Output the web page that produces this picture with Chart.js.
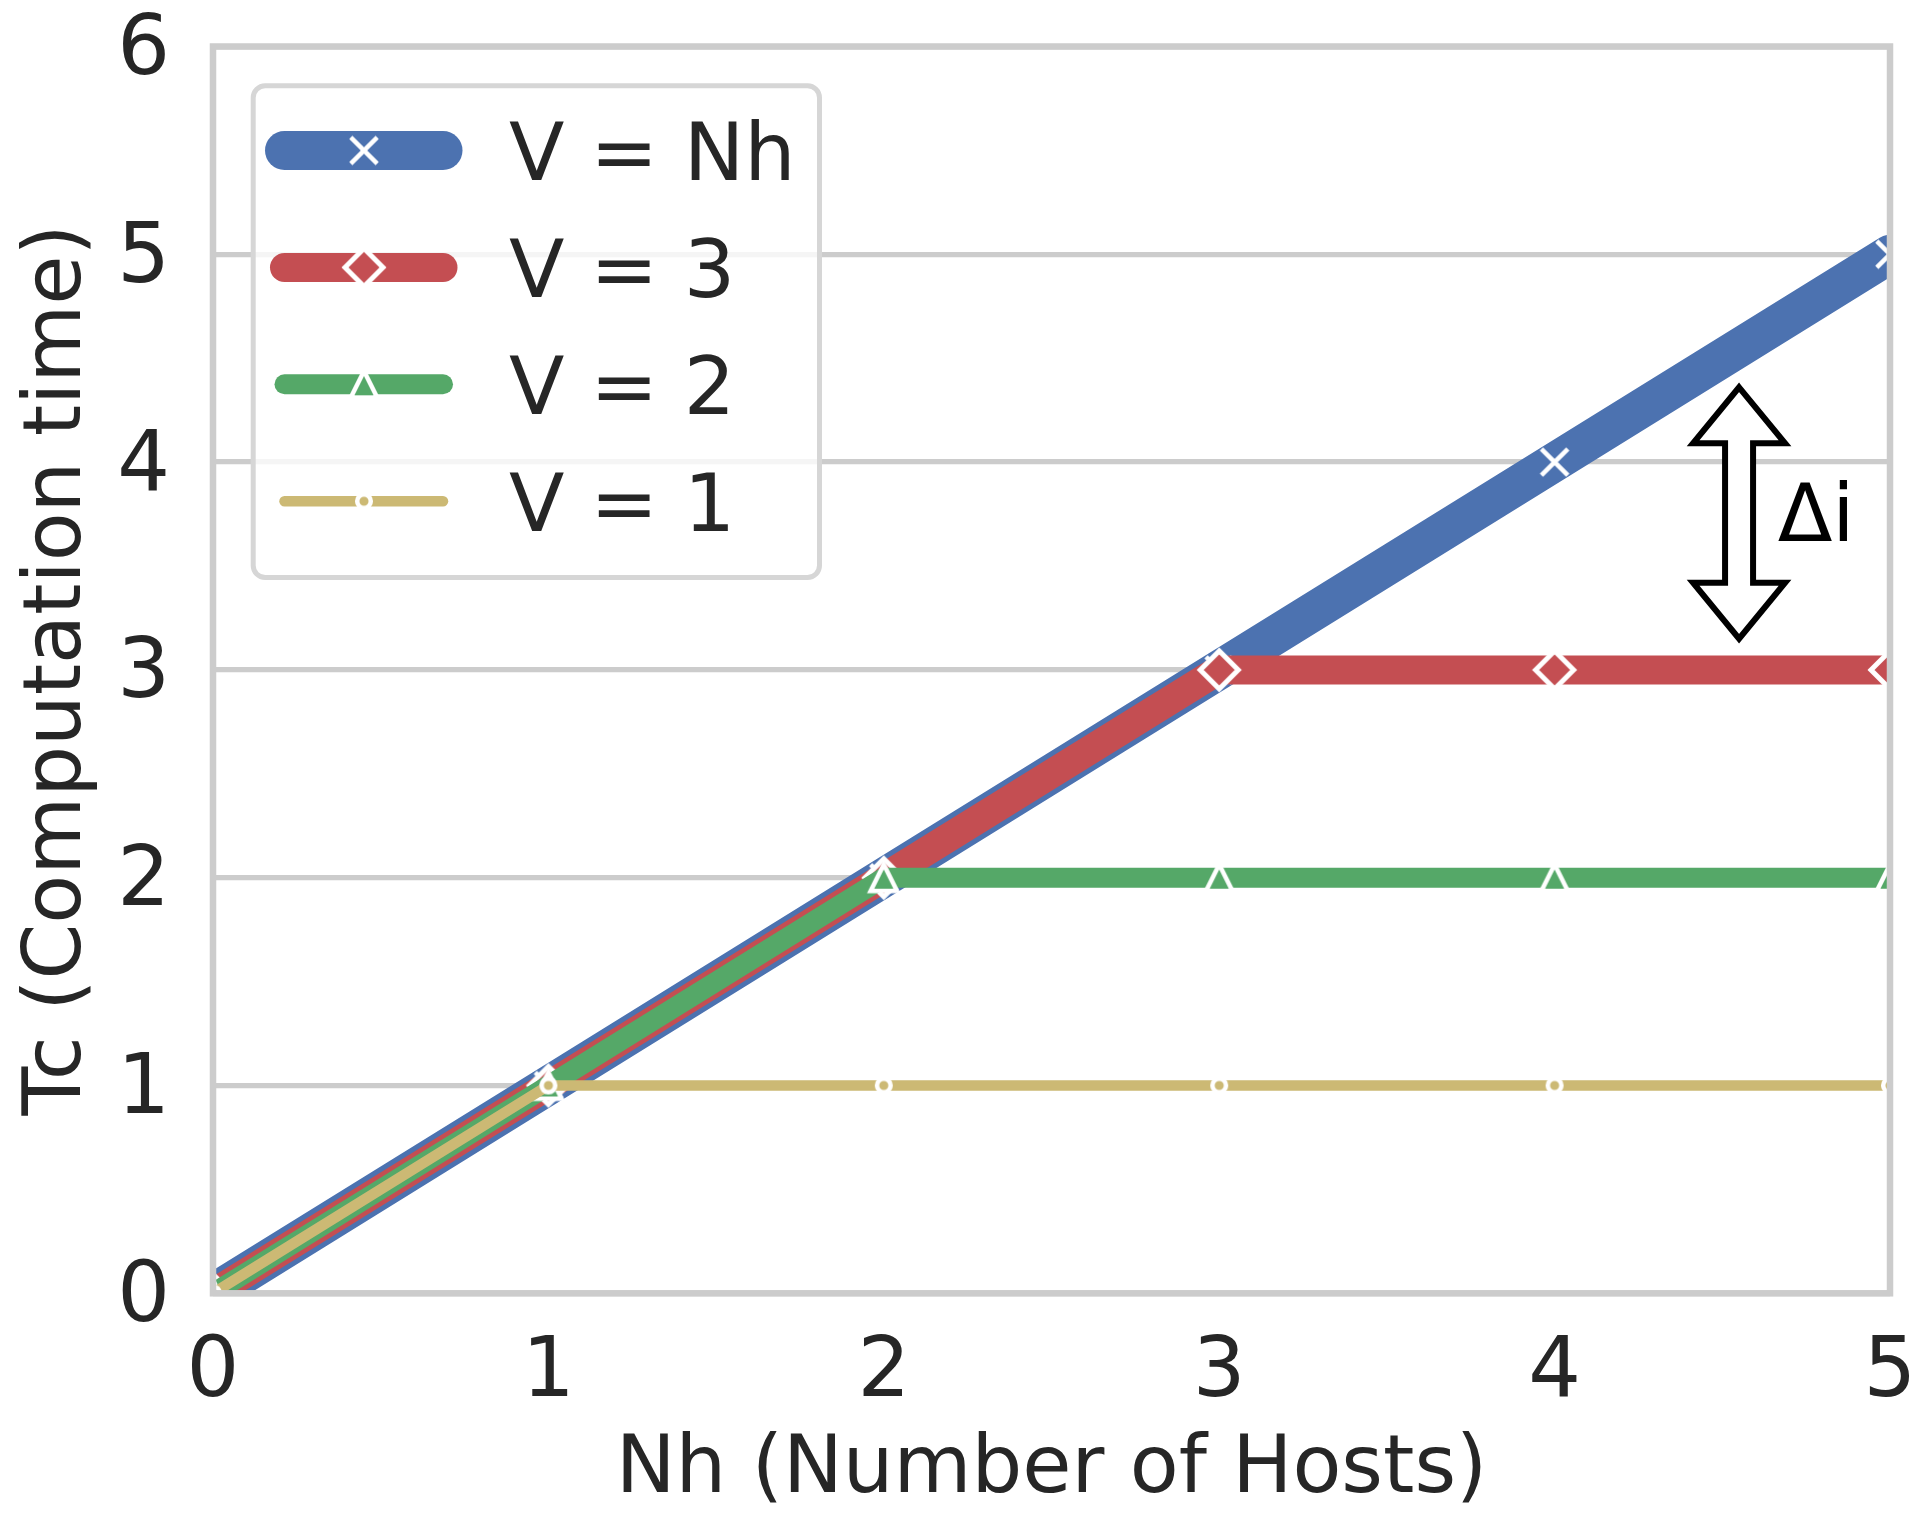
<!DOCTYPE html>
<html>
<head>
<meta charset="utf-8">
<script src="https://cdn.jsdelivr.net/npm/chart.js@4.4.1/dist/chart.umd.min.js"></script>
<style>
html,body{margin:0;padding:0;background:#ffffff;}
canvas{display:block;}
</style>
</head>
<body>
<canvas id="c" width="1930" height="1525"></canvas>
<script>
// ---------------- data ----------------
const hosts = [0, 1, 2, 3, 4, 5];
const seriesLabels = ['V = Nh', 'V = 3', 'V = 2', 'V = 1'];
const tcVNh = [0, 1, 2, 3, 4, 5];
const tcV3  = [0, 1, 2, 3, 3, 3];
const tcV2  = [0, 1, 2, 2, 2, 2];
const tcV1  = [0, 1, 1, 1, 1, 1];
const xTickLabels = ['0', '1', '2', '3', '4', '5'];
const yTickLabels = ['0', '1', '2', '3', '4', '5', '6'];
const xTitle = 'Nh (Number of Hosts)';
const yTitle = 'Tc (Computation time)';
const deltaLabel = 'Δi';
const deltaArrow = {x: 4.55, yLow: 3.15, yHigh: 4.36};
const deltaTextPos = {x: 4.665, y: 3.62};

// ---------------- styles ----------------
const FONT = '"DejaVu Sans", sans-serif';
const TEXT = '#262626';
const COLORS = ['#4C72B0', '#C44E52', '#55A868', '#CCB974'];
const WIDTHS = [39, 29, 20, 10.5];

function mkCanvas(s) { const c = document.createElement('canvas'); c.width = s; c.height = s; return c; }
function mkX() {
  const S = 40, c = mkCanvas(S), g = c.getContext('2d'), m = S / 2, d = 13.2;
  g.strokeStyle = '#ffffff'; g.lineWidth = 4.5; g.lineCap = 'butt';
  g.beginPath(); g.moveTo(m - d, m - d); g.lineTo(m + d, m + d);
  g.moveTo(m + d, m - d); g.lineTo(m - d, m + d); g.stroke();
  return c;
}
function mkDiamond(col) {
  const S = 56, c = mkCanvas(S), g = c.getContext('2d'), m = S / 2, r = 19;
  g.beginPath(); g.moveTo(m - r, m); g.lineTo(m, m - r); g.lineTo(m + r, m); g.lineTo(m, m + r); g.closePath();
  g.fillStyle = col; g.fill(); g.strokeStyle = '#ffffff'; g.lineWidth = 5; g.lineJoin = 'miter'; g.stroke();
  return c;
}
function mkTri(col) {
  const S = 56, c = mkCanvas(S), g = c.getContext('2d'), m = S / 2, s = 13.2;
  g.beginPath(); g.moveTo(m, m - s); g.lineTo(m - s, m + s); g.lineTo(m + s, m + s); g.closePath();
  g.fillStyle = col; g.fill(); g.strokeStyle = '#ffffff'; g.lineWidth = 4.5; g.lineJoin = 'miter'; g.stroke();
  return c;
}
function mkCircle(col) {
  const S = 26, c = mkCanvas(S), g = c.getContext('2d'), m = S / 2;
  g.beginPath(); g.arc(m, m, 6.8, 0, Math.PI * 2);
  g.fillStyle = col; g.fill(); g.strokeStyle = '#ffffff'; g.lineWidth = 4.5; g.stroke();
  return c;
}
const MARKERS = [mkX(), mkDiamond(COLORS[1]), mkTri(COLORS[2]), mkCircle(COLORS[3])];

const seriesValues = [tcVNh, tcV3, tcV2, tcV1];
const toPoints = vals => hosts.map((x, i) => ({x: x, y: vals[i]}));

// ---------------- decorations plugin ----------------
const decor = {
  id: 'decor',
  afterDatasetsDraw(chart) {
    const ctx = chart.ctx, a = chart.chartArea, xs = chart.scales.x, ys = chart.scales.y;
    ctx.save();
    // axes frame (drawn over data like matplotlib spines)
    ctx.strokeStyle = '#cccccc'; ctx.lineWidth = 6.5; ctx.lineJoin = 'miter';
    ctx.strokeRect(a.left, a.top, a.right - a.left, a.bottom - a.top);

    // double arrow
    const ax = xs.getPixelForValue(deltaArrow.x);
    const yT = ys.getPixelForValue(deltaArrow.yHigh);
    const yB = ys.getPixelForValue(deltaArrow.yLow);
    const hw = 46, sw = 14, hl = 56;
    ctx.beginPath();
    ctx.moveTo(ax, yT);
    ctx.lineTo(ax + hw, yT + hl); ctx.lineTo(ax + sw, yT + hl);
    ctx.lineTo(ax + sw, yB - hl); ctx.lineTo(ax + hw, yB - hl);
    ctx.lineTo(ax, yB);
    ctx.lineTo(ax - hw, yB - hl); ctx.lineTo(ax - sw, yB - hl);
    ctx.lineTo(ax - sw, yT + hl); ctx.lineTo(ax - hw, yT + hl);
    ctx.closePath();
    ctx.fillStyle = '#ffffff'; ctx.fill();
    ctx.strokeStyle = '#000000'; ctx.lineWidth = 6; ctx.stroke();

    ctx.fillStyle = '#000000';
    ctx.font = '80px ' + FONT;
    ctx.textAlign = 'left'; ctx.textBaseline = 'alphabetic';
    ctx.fillText(deltaLabel, xs.getPixelForValue(deltaTextPos.x), ys.getPixelForValue(deltaTextPos.y));

    // legend
    const L = {x0: 253.2, y0: 85.8, x1: 819.5, y1: 577.5, r: 12};
    ctx.beginPath();
    ctx.roundRect(L.x0, L.y0, L.x1 - L.x0, L.y1 - L.y0, L.r);
    ctx.fillStyle = 'rgba(255,255,255,0.8)'; ctx.fill();
    ctx.strokeStyle = '#d6d6d6'; ctx.lineWidth = 5; ctx.stroke();
    const rowY0 = 150.5, rowStep = 116.9, hx0 = 284.5, hx1 = 443, mx = 364, tx = 509;
    chart.data.datasets.forEach((ds, i) => {
      const y = rowY0 + i * rowStep;
      ctx.beginPath(); ctx.moveTo(hx0, y); ctx.lineTo(hx1, y);
      ctx.strokeStyle = ds.borderColor; ctx.lineWidth = ds.borderWidth; ctx.lineCap = 'round'; ctx.stroke();
      const img = ds.pointStyle;
      ctx.drawImage(img, mx - img.width / 2, y - img.height / 2);
      ctx.fillStyle = TEXT; ctx.font = '81px ' + FONT;
      ctx.textAlign = 'left'; ctx.textBaseline = 'alphabetic';
      ctx.fillText(ds.label, tx, y + 29.5);
    });
    ctx.restore();
  }
};

// ---------------- chart ----------------
new Chart(document.getElementById('c'), {
  type: 'line',
  data: {
    datasets: seriesValues.map((vals, i) => ({
      label: seriesLabels[i],
      data: toPoints(vals),
      borderColor: COLORS[i],
      backgroundColor: COLORS[i],
      borderWidth: WIDTHS[i],
      borderCapStyle: 'round',
      borderJoinStyle: 'round',
      tension: 0,
      fill: false,
      pointStyle: MARKERS[i],
      pointRadius: 10,
      pointHoverRadius: 10,
      pointBorderWidth: 0,
      clip: 0,
      order: seriesValues.length - i
    }))
  },
  options: {
    responsive: false,
    animation: false,
    devicePixelRatio: 1,
    events: [],
    layout: {padding: {left: 0, top: 46.5, right: 40, bottom: 0}},
    plugins: {legend: {display: false}, tooltip: {enabled: false}},
    scales: {
      x: {
        type: 'linear', min: 0, max: 5,
        ticks: {
          stepSize: 1, autoSkip: false, maxRotation: 0, padding: 31, color: TEXT,
          font: {family: FONT, size: 83},
          callback: v => (Number.isInteger(v) ? xTickLabels[v] : '')
        },
        grid: {display: false, drawTicks: false},
        border: {display: false},
        title: {display: true, text: xTitle, color: TEXT, font: {family: FONT, size: 80}, padding: {top: 0, bottom: 6}},
        afterFit: s => { s.height = 1525 - 1293.3; s.paddingLeft = 0; s.paddingRight = 0; }
      },
      y: {
        type: 'linear', min: 0, max: 6,
        ticks: {
          stepSize: 1, autoSkip: false, padding: 43, labelOffset: 6, color: TEXT,
          font: {family: FONT, size: 83},
          callback: v => (Number.isInteger(v) ? yTickLabels[v] : '')
        },
        grid: {color: '#cccccc', lineWidth: 5.3, drawTicks: false},
        border: {display: false},
        title: {display: true, text: yTitle, color: TEXT, font: {family: FONT, size: 80}, padding: {top: 11, bottom: 0}},
        afterFit: s => { s.width = 213; s.paddingTop = 0; s.paddingBottom = 0; }
      }
    }
  },
  plugins: [decor]
});
</script>
</body>
</html>
